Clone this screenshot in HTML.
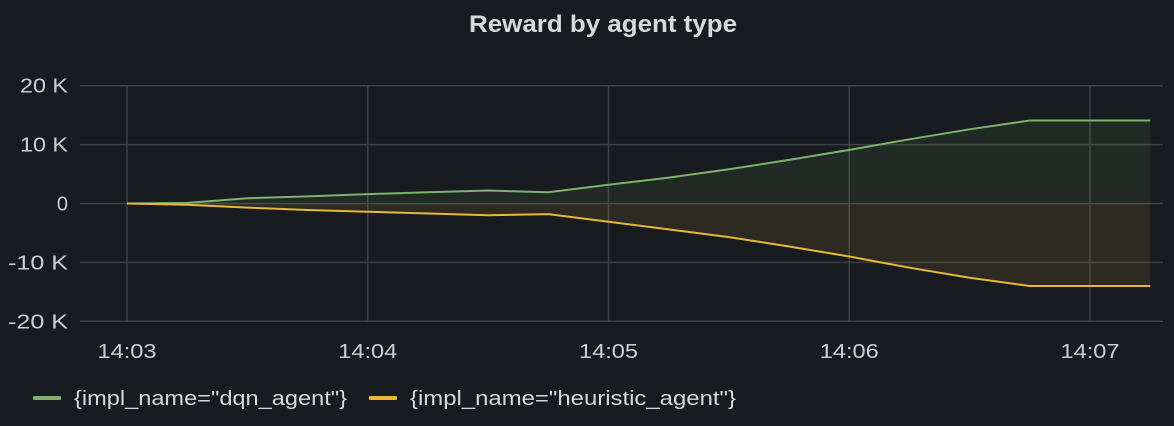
<!DOCTYPE html>
<html><head><meta charset="utf-8"><style>
body{margin:0;background:#181b1f;width:1174px;height:421px;overflow:hidden;font-family:"Liberation Sans",sans-serif}
</style></head><body>
<svg id="chart" width="1174" height="421" xmlns="http://www.w3.org/2000/svg">
<text x="603" y="32" text-anchor="middle" fill="#d8d9da" font-size="24" font-weight="bold" textLength="268" lengthAdjust="spacingAndGlyphs" font-family="Liberation Sans, sans-serif">Reward by agent type</text>
<g id="grid"></g><g id="series"></g><g id="axes"></g>
<g>
<g><rect x="33" y="396" width="28" height="4" rx="1" fill="#7eb26d"/><text x="74" y="405" fill="#d8d9da" font-size="20" textLength="273" lengthAdjust="spacingAndGlyphs">{impl_name="dqn_agent"}</text></g>
<g><rect x="369" y="396" width="28" height="4" rx="1" fill="#eab839"/><text x="410" y="405" fill="#d8d9da" font-size="20" textLength="326" lengthAdjust="spacingAndGlyphs">{impl_name="heuristic_agent"}</text></g>
</g>
</svg>
<script>
const times=[0,15,30,45,60,75,90,105,120,135,150,165,180,195,210,225,240,255];
const dqn=[0,0.1,0.9,1.2,1.6,1.9,2.2,1.9,3.2,4.4,5.8,7.4,9.1,10.9,12.6,14.1,14.1,14.1];
const heuristic=[0,-0.2,-0.7,-1.1,-1.4,-1.7,-2.0,-1.8,-3.1,-4.4,-5.7,-7.3,-9.0,-10.9,-12.6,-14.0,-14.0,-14.0];
const yTicks=[20,10,0,-10,-20];
const yTickLabels=["20 K","10 K","0","-10 K","-20 K"];
const xTicks=[0,60,120,180,240];
const xTickLabels=["14:03","14:04","14:05","14:06","14:07"];
const NS="http://www.w3.org/2000/svg";
const x=t=>127+t*(963/240);
const y=v=>203.5-v*5.89;
function mk(tag,attrs,parent){const e=document.createElementNS(NS,tag);for(const k in attrs)e.setAttribute(k,attrs[k]);parent.appendChild(e);return e;}
const grid=document.getElementById('grid'),axes=document.getElementById('axes'),ser=document.getElementById('series');
yTicks.forEach((v,i)=>{
 const l=mk('line',{x1:80,x2:1163,y1:y(v),y2:y(v),stroke:'#3e4045','stroke-width':1.5},grid);
 
 
 const lab=yTickLabels[i];
 const t=mk('text',{x:68,y:y(v)+7,'text-anchor':'end',fill:'#c7d0d9','font-size':20},axes);
 if(lab.length>1){t.setAttribute('textLength',lab.length*12);t.setAttribute('lengthAdjust','spacingAndGlyphs');}
 t.textContent=lab;
 
 
});
xTicks.forEach((v,i)=>{
 const l=mk('line',{x1:x(v),x2:x(v),y1:85,y2:321,stroke:'#3e4045','stroke-width':1.5},grid);
 
 
 const t=mk('text',{x:x(v),y:358,'text-anchor':'middle',fill:'#c7d0d9','font-size':20,textLength:59,lengthAdjust:'spacingAndGlyphs'},axes);
 t.textContent=xTickLabels[i];
 
 
});
function draw(vals,color,fill,name){
 const pts=vals.map((v,i)=>x(times[i]).toFixed(1)+','+y(vals[i]).toFixed(1));
 const area=mk('polygon',{points:x(times[0])+','+y(0)+' '+pts.join(' ')+' '+x(times[times.length-1])+','+y(0),fill:fill},ser);
 
 
 const line=mk('polyline',{points:pts.join(' '),fill:'none',stroke:color,'stroke-width':2},ser);
 
 
}
draw(dqn,'#7eb26d','rgba(126,178,109,0.1)','dqn-series');
draw(heuristic,'#eab839','rgba(234,184,57,0.1)','heuristic-series');
</script>
</body></html>
